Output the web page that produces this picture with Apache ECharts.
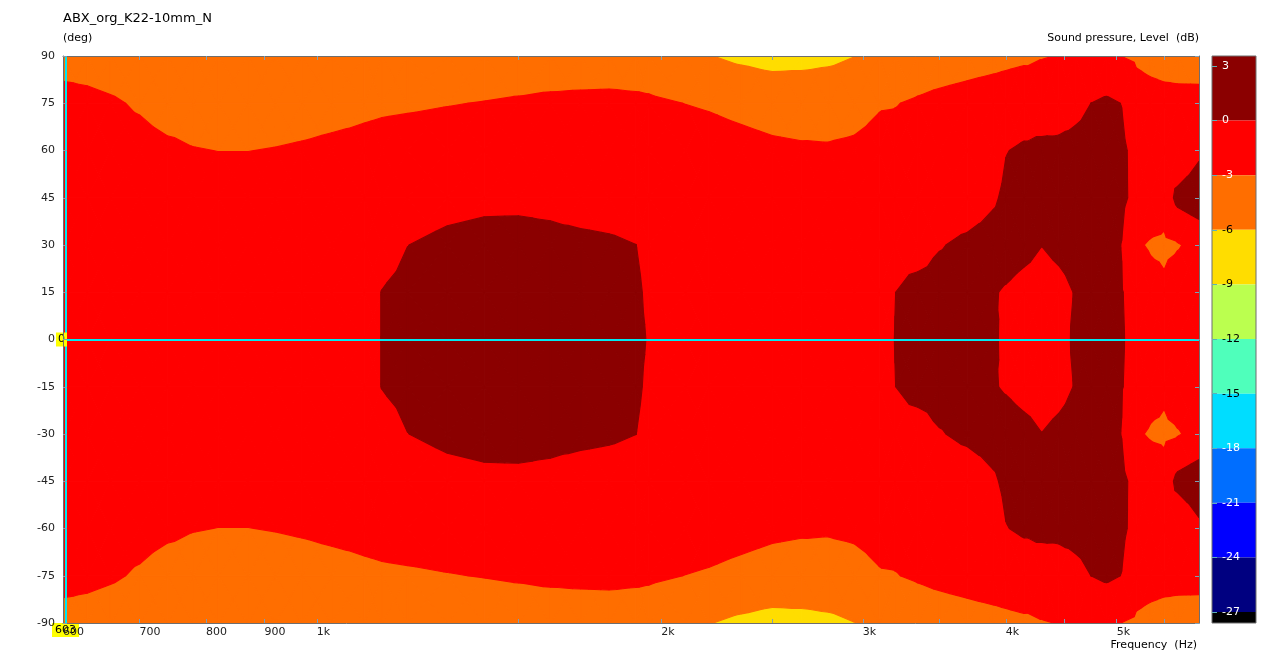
<!DOCTYPE html>
<html>
<head>
<meta charset="utf-8">
<title>ABX_org_K22-10mm_N</title>
<script src="https://cdn.jsdelivr.net/npm/echarts@6/dist/echarts.min.js"></script>
<style>
  html, body { margin: 0; padding: 0; background: #fff; }
  #chart { width: 1270px; height: 658px; }
</style>
</head>
<body>
<div id="chart"></div>
<script>
// measurement grid: frequency columns (Hz) and angle rows (deg)
const freqs = [600, 630, 660, 700, 740, 780, 820, 870, 920, 970, 1030, 1100,
  1140, 1200, 1300, 1400, 1500, 1600, 1700, 1800, 1900, 1950,
  2100, 2200, 2350, 2500, 2650, 2800, 2950, 3100,
  3200, 3350, 3500, 3700, 3900, 4000, 4150, 4300, 4450,
  4600, 4750, 4900, 5050, 5200, 5350, 5500, 5650, 5900]
const angles = [-90, -75, -60, -45, -30, -15, 0, 15, 30, 45, 60, 75, 90]

// level relative to on-axis (dB), one list per angle
const splM90 = [-3.8, -3.85, -4.1, -4.3, -4.5, -4.6, -4.7, -4.7, -4.6, -4.5, -4.4, -4.3, -4.3, -4.2, -4.2, -4.0, -4.0, -4.0, -4.0, -4.0, -4.0, -4.0, -4.5, -5.9, -6.62, -7.15, -6.99, -6.68, -6.05, -5.5, -5.0, -4.5, -4.3, -4.0, -3.8, -3.6, -3.4, -3.1, -2.95, -2.6, -2.7, -2.9, -3.02, -3.33, -3.63, -3.74, -3.71, -3.75]
const splM75 = [-2.3, -2.5, -2.75, -3.23, -3.88, -3.92, -4.0, -4.0, -3.9, -3.8, -3.67, -3.36, -3.26, -3.19, -3.06, -2.95, -2.82, -2.68, -2.61, -2.57, -2.67, -2.75, -3.02, -3.15, -3.41, -3.64, -3.77, -3.68, -3.51, -3.11, -3.08, -2.73, -2.39, -2.1, -1.69, -1.65, -1.4, -1.85, -1.5, -0.8, 0.02, 0.5, -0.05, -2.0, -2.2, -2.4, -2.5, -2.5]
const splM60 = [-2.0, -2.1, -2.2, -2.3, -2.6, -2.92, -3.02, -3.02, -2.93, -2.8, -2.6, -2.5, -2.4, -2.3, -2.2, -2.1, -2.0, -1.9, -1.9, -1.9, -2.0, -2.0, -2.2, -2.3, -2.5, -2.7, -2.8, -2.85, -2.75, -2.55, -2.3, -2.2, -1.9, -1.7, -1.2, -0.08, 0.35, 0.77, 0.73, 0.9, 1.1, 1.0, 0.5, -0.8, -1.5, -1.5, -2.5, -0.55]
const splM45 = [-1.7, -1.7, -1.8, -1.8, -1.9, -2.0, -2.2, -2.2, -2.1, -2.0, -1.9, -1.8, -1.6, -1.2, -0.73, -0.47, -0.46, -0.66, -1.13, -1.27, -1.4, -1.5, -1.6, -1.7, -1.8, -1.9, -2.0, -2.0, -1.9, -1.8, -1.6, -1.8, -1.5, -1.4, -0.33, 0.47, 1.0, 1.0, 1.0, 0.9, 1.0, 1.0, 0.5, -0.7, -1.05, -1.8, 0.8, 1.87]
const splM30 = [-1.4, -1.4, -1.4, -1.4, -1.4, -1.4, -1.4, -1.4, -1.3, -1.3, -1.2, -1.1, -0.8, -0.02, 0.5, 0.7, 0.75, 0.7, 0.6, 0.4, 0.02, -0.5, -1.0, -1.1, -1.2, -1.3, -1.3, -1.3, -1.2, -1.1, -1.0, -1.31, -0.15, 0.5, 1.0, 1.0, 0.61, 0.03, 0.47, 0.8, 0.9, 0.8, -0.05, -2.6, -3.3, -3.5, -3.2, -2.2]
const splM15 = [-1.1, -1.1, -1.1, -1.0, -1.0, -1.0, -1.0, -1.0, -0.9, -0.9, -0.8, -0.7, 0.05, 0.5, 0.7, 0.8, 0.8, 0.8, 0.7, 0.6, 0.3, -0.3, -0.7, -0.8, -0.9, -1.0, -1.0, -1.0, -0.9, -0.8, -0.03, 1.0, 1.0, 1.0, 0.15, -0.2, -0.7, -0.9, -0.6, 0.1, 0.8, 0.8, 0.1, -0.8, -1.89, -2.54, -1.53, -1.3]
const spl0 = [-1.0, -1.0, -1.0, -0.9, -0.9, -0.9, -0.9, -0.9, -0.8, -0.8, -0.7, -0.6, 0.05, 0.5, 0.8, 0.9, 0.9, 0.9, 0.8, 0.7, 0.35, -0.1, -0.6, -0.7, -0.8, -0.9, -0.9, -0.9, -0.8, -0.7, 0.03, 1.0, 1.0, 1.0, 0.4, -0.58, -0.9, -1.0, -0.7, 0.3, 0.8, 0.7, 0.2, -0.8, -1.0, -1.2, -1.2, -1.0]
const spl15 = [-1.1, -1.1, -1.1, -1.0, -1.0, -1.0, -1.0, -1.0, -0.9, -0.9, -0.8, -0.7, 0.05, 0.5, 0.7, 0.8, 0.8, 0.8, 0.7, 0.6, 0.3, -0.3, -0.7, -0.8, -0.9, -1.0, -1.0, -1.0, -0.9, -0.8, -0.03, 1.0, 1.0, 1.0, 0.15, -0.2, -0.7, -0.9, -0.6, 0.1, 0.8, 0.8, 0.1, -0.8, -1.89, -2.54, -1.53, -1.3]
const spl30 = [-1.4, -1.4, -1.4, -1.4, -1.4, -1.4, -1.4, -1.4, -1.3, -1.3, -1.2, -1.1, -0.8, -0.02, 0.5, 0.7, 0.75, 0.7, 0.6, 0.4, 0.02, -0.5, -1.0, -1.1, -1.2, -1.3, -1.3, -1.3, -1.2, -1.1, -1.0, -1.31, -0.15, 0.5, 1.0, 1.0, 0.61, 0.03, 0.47, 0.8, 0.9, 0.8, -0.05, -2.6, -3.3, -3.5, -3.2, -2.2]
const spl45 = [-1.7, -1.7, -1.8, -1.8, -1.9, -2.0, -2.2, -2.2, -2.1, -2.0, -1.9, -1.8, -1.6, -1.2, -0.73, -0.47, -0.46, -0.66, -1.13, -1.27, -1.4, -1.5, -1.6, -1.7, -1.8, -1.9, -2.0, -2.0, -1.9, -1.8, -1.6, -1.8, -1.5, -1.4, -0.33, 0.47, 1.0, 1.0, 1.0, 0.9, 1.0, 1.0, 0.5, -0.7, -1.05, -1.8, 0.8, 1.87]
const spl60 = [-2.0, -2.1, -2.2, -2.3, -2.6, -2.92, -3.02, -3.02, -2.93, -2.8, -2.6, -2.5, -2.4, -2.3, -2.2, -2.1, -2.0, -1.9, -1.9, -1.9, -2.0, -2.0, -2.2, -2.3, -2.5, -2.7, -2.8, -2.85, -2.75, -2.55, -2.3, -2.2, -1.9, -1.7, -1.2, -0.08, 0.35, 0.77, 0.73, 0.9, 1.1, 1.0, 0.5, -0.8, -1.5, -1.5, -2.5, -0.55]
const spl75 = [-2.3, -2.5, -2.75, -3.23, -3.88, -3.92, -4.0, -4.0, -3.9, -3.8, -3.67, -3.36, -3.26, -3.19, -3.06, -2.95, -2.82, -2.68, -2.61, -2.57, -2.67, -2.75, -3.02, -3.15, -3.41, -3.64, -3.77, -3.68, -3.51, -3.11, -3.08, -2.73, -2.39, -2.1, -1.69, -1.65, -1.4, -1.85, -1.5, -0.8, 0.02, 0.5, -0.05, -2.0, -2.2, -2.4, -2.5, -2.5]
const spl90 = [-3.8, -3.85, -4.1, -4.3, -4.5, -4.6, -4.7, -4.7, -4.6, -4.5, -4.4, -4.3, -4.3, -4.2, -4.2, -4.0, -4.0, -4.0, -4.0, -4.0, -4.0, -4.0, -4.5, -5.9, -6.62, -7.15, -6.99, -6.68, -6.05, -5.5, -5.0, -4.5, -4.3, -4.0, -3.8, -3.6, -3.4, -3.1, -2.95, -2.6, -2.7, -2.9, -3.02, -3.33, -3.63, -3.74, -3.71, -3.75]
const rows = [splM90, splM75, splM60, splM45, splM30, splM15, spl0, spl15, spl30, spl45, spl60, spl75, spl90]

// colour scale: band edges (dB) and fill per band, top band first
const levelEdges = [0, -3, -6, -9, -12, -15, -18, -21, -24, -27]
const bandColors = ['#8b0000', '#ff0000', '#ff6e00', '#ffdd00', '#bbff4f', '#4fffbb',
  '#00ddff', '#006eff', '#0000ff', '#000080', '#000000']
const scaleLabels = [3, 0, -3, -6, -9, -12, -15, -18, -21, -24, -27]

// axis ticks
const xLabelValues = [600, 700, 800, 900, 1000, 2000, 3000, 4000, 5000]
const xTickValues = [700, 800, 900, 1000, 1500, 2000, 2500, 3000, 3500, 4000, 4500, 5000, 5500]

// cursor
const cursorFreq = 603
const cursorAngle = 0

const font = 'DejaVu Sans, Verdana, sans-serif'

// polygon clip against one level of the interpolated value (3rd item of each point)
function clipPoly(pts, level, keepAbove) {
  if (!isFinite(level)) return pts
  const out = []
  for (let k = 0; k < pts.length; k++) {
    const a = pts[k]
    const b = pts[(k + 1) % pts.length]
    const ina = keepAbove ? a[2] >= level : a[2] <= level
    const inb = keepAbove ? b[2] >= level : b[2] <= level
    if (ina) out.push(a)
    if (ina !== inb) {
      const t = (level - a[2]) / (b[2] - a[2])
      out.push([a[0] + t * (b[0] - a[0]), a[1] + t * (b[1] - a[1]), level])
    }
  }
  return out
}

// one item per (band, cell); low bands first so higher bands always sit on top
const cells = []
for (let b = bandColors.length - 1; b >= 0; b--) {
  for (let j = 0; j < angles.length - 1; j++) {
    for (let i = 0; i < freqs.length - 1; i++) {
      cells.push([freqs[i], angles[j], i, j, b])
    }
  }
}

function renderCell(params, api) {
  const i = api.value(2)
  const j = api.value(3)
  const b = api.value(4)
  const hi = b === 0 ? Infinity : levelEdges[b - 1]
  const lo = b === bandColors.length - 1 ? -Infinity : levelEdges[b]
  const idx = [[i, j], [i + 1, j], [i + 1, j + 1], [i, j + 1]]
  const vals = idx.map(([ci, cj]) => rows[cj][ci])
  if (Math.max(...vals) < lo || Math.min(...vals) > hi) return null
  const corners = idx.map(([ci, cj], k) => {
    const p = api.coord([freqs[ci], angles[cj]])
    return [p[0], p[1], vals[k]]
  })
  const center = [0, 1, 2].map(d => (corners[0][d] + corners[1][d] + corners[2][d] + corners[3][d]) / 4)
  const children = []
  for (let k = 0; k < 4; k++) {
    const tri = [corners[k], corners[(k + 1) % 4], center]
    const poly = clipPoly(clipPoly(tri, lo, true), hi, false)
    if (poly.length < 3) continue
    children.push({
      type: 'polygon',
      shape: { points: poly.map(p => [p[0], p[1]]) },
      style: { fill: bandColors[b], stroke: bandColors[b], lineWidth: 1.1, lineJoin: 'bevel' }
    })
  }
  return children.length ? { type: 'group', children } : null
}

// colour bar rectangles
const barTop = 3.55
const barBottom = -27.6
const barBands = bandColors.map((c, b) => [
  b === 0 ? barTop : levelEdges[b - 1],
  b === bandColors.length - 1 ? barBottom : levelEdges[b],
  b
])

function renderBand(params, api) {
  const top = api.coord([0, api.value(0)])
  const bottom = api.coord([1, api.value(1)])
  return {
    type: 'rect',
    shape: { x: top[0], y: top[1], width: bottom[0] - top[0], height: bottom[1] - top[1] },
    style: { fill: bandColors[api.value(2)] }
  }
}

const fmtFreq = v => (v >= 1000 ? (v / 1000) + 'k' : String(v))
const frameColor = '#6e6e6e'
const tickColor = '#7f9fb5'

const chart = echarts.init(document.getElementById('chart'), null, { renderer: 'canvas' })

chart.setOption({
  animation: false,
  backgroundColor: '#fff',
  title: [
    { text: 'ABX_org_K22-10mm_N', left: 63, top: 12, padding: 0, textStyle: { fontFamily: font, fontSize: 13, fontWeight: 'normal', color: '#000' } },
    { text: '(deg)', left: 63, top: 33, padding: 0, textStyle: { fontFamily: font, fontSize: 11, fontWeight: 'normal', color: '#000' } },
    { text: 'Sound pressure, Level  (dB)', right: 71, top: 33, padding: 0, textStyle: { fontFamily: font, fontSize: 11, fontWeight: 'normal', color: '#000' } },
    { text: 'Frequency  (Hz)', right: 73, top: 640, padding: 0, textStyle: { fontFamily: font, fontSize: 11, fontWeight: 'normal', color: '#000' } }
  ],
  grid: [
    { left: 63, top: 56, width: 1136, height: 567, outerBoundsMode: 'none' },
    { left: 1212, top: 56, width: 44, height: 567, outerBoundsMode: 'none', show: true, z: 10, borderColor: frameColor, borderWidth: 1, backgroundColor: 'rgba(0,0,0,0)' }
  ],
  xAxis: [
    {
      type: 'log', gridIndex: 0, position: 'bottom', min: 600, max: 5900, z: 10,
      axisLine: { show: true, onZero: false, lineStyle: { color: frameColor } },
      axisTick: { show: true, inside: true, length: 4, customValues: xTickValues, lineStyle: { color: tickColor } },
      axisLabel: { customValues: xLabelValues, formatter: fmtFreq, align: 'left', margin: 4, color: '#222', fontFamily: font, fontSize: 11 },
      splitLine: { show: false }, minorTick: { show: false }
    },
    {
      type: 'log', gridIndex: 0, position: 'top', min: 600, max: 5900, z: 10,
      axisLine: { show: true, onZero: false, lineStyle: { color: frameColor } },
      axisTick: { show: true, inside: true, length: 4, customValues: xTickValues, lineStyle: { color: tickColor } },
      axisLabel: { show: false },
      splitLine: { show: false }
    },
    { type: 'value', gridIndex: 1, min: 0, max: 1, show: false }
  ],
  yAxis: [
    {
      type: 'value', gridIndex: 0, position: 'left', min: -90, max: 90, interval: 15, z: 10,
      axisLine: { show: true, onZero: false, lineStyle: { color: frameColor } },
      axisTick: { show: true, inside: true, length: 4, lineStyle: { color: tickColor } },
      axisLabel: { margin: 8, color: '#222', fontFamily: font, fontSize: 11 },
      splitLine: { show: false }
    },
    {
      type: 'value', gridIndex: 0, position: 'right', min: -90, max: 90, interval: 15, z: 10,
      axisLine: { show: true, onZero: false, lineStyle: { color: frameColor } },
      axisTick: { show: true, inside: true, length: 4, lineStyle: { color: tickColor } },
      axisLabel: { show: false },
      splitLine: { show: false }
    },
    {
      type: 'value', gridIndex: 1, position: 'left', min: barBottom, max: barTop, z: 11,
      axisLine: { show: false, onZero: false },
      axisTick: { show: true, inside: true, length: 5, customValues: scaleLabels, lineStyle: { color: '#5fb0b8' } },
      axisLabel: {
        inside: true, customValues: scaleLabels, margin: 10, fontFamily: font, fontSize: 11,
        color: v => (parseFloat(v) <= -6 && parseFloat(v) >= -15 ? '#000' : '#fff')
      },
      splitLine: { show: false }
    }
  ],
  series: [
    {
      type: 'custom', name: 'SPL', xAxisIndex: 0, yAxisIndex: 0,
      renderItem: renderCell, data: cells, encode: { x: 0, y: 1 }, clip: true, silent: true,
      progressive: 0
    },
    {
      type: 'custom', name: 'scale', xAxisIndex: 2, yAxisIndex: 2,
      renderItem: renderBand, data: barBands, encode: { y: [0, 1] }, silent: true
    },
    {
      type: 'line', name: 'cursor', xAxisIndex: 0, yAxisIndex: 0, data: [], z: 20,
      markLine: {
        silent: true, symbol: ['none', 'none'], animation: false,
        lineStyle: { color: '#00e8f0', width: 2, type: 'solid' },
        data: [
          { yAxis: cursorAngle, label: { show: true, position: 'start', formatter: String(cursorAngle), distance: -4, backgroundColor: '#ffff00', color: '#000', padding: [2, 2, 1, 2], fontFamily: font, fontSize: 11 } },
          { xAxis: cursorFreq, label: { show: true, position: 'start', formatter: String(cursorFreq), distance: 0, backgroundColor: '#ffff00', color: '#000', padding: [2, 3, 1, 3], fontFamily: font, fontSize: 11 } }
        ]
      }
    }
  ]
})
</script>
</body>
</html>
